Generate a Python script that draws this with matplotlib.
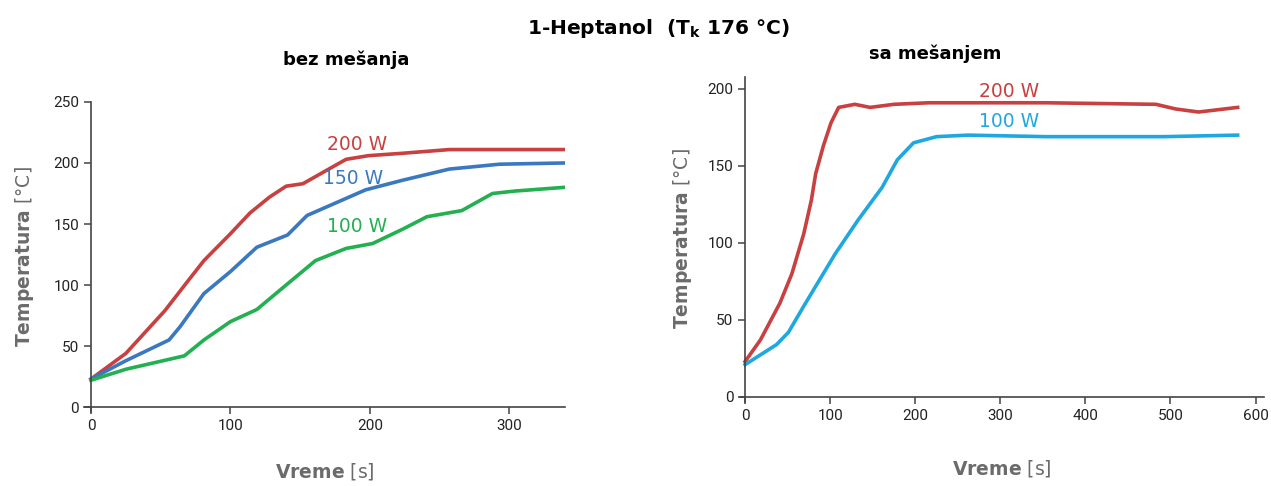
import matplotlib
matplotlib.use("Agg")
import matplotlib.pyplot as plt

# --- podaci: bez mesanja ---
t_200_a = [0, 25, 53, 70, 81, 100, 114, 128, 140, 152, 169, 183, 199, 224, 257, 339]
T_200_a = [23, 44, 79, 104, 120, 142, 159, 172, 181, 183, 194, 203, 206, 208, 211, 211]

t_150_a = [0, 25, 56, 64, 81, 100, 119, 141, 155, 169, 197, 224, 257, 293, 339]
T_150_a = [23, 38, 55, 66, 93, 111, 131, 141, 157, 164, 178, 186, 195, 199, 200]

t_100_a = [0, 25, 67, 81, 100, 119, 141, 161, 183, 202, 224, 241, 266, 288, 304, 339]
T_100_a = [22, 31, 42, 55, 70, 80, 101, 120, 130, 134, 146, 156, 161, 175, 177, 180]

# --- podaci: sa mesanjem ---
t_200_b = [0, 18, 41, 55, 69, 78, 83, 92, 101, 110, 129, 147, 175, 216, 354, 483, 506, 533, 579]
T_200_b = [23, 37, 61, 80, 106, 128, 145, 163, 178, 188, 190, 188, 190, 191, 191, 190, 187, 185, 188]

t_100_b = [0, 37, 51, 69, 106, 133, 161, 179, 198, 225, 262, 354, 492, 579]
T_100_b = [21, 34, 42, 59, 93, 115, 136, 154, 165, 169, 170, 169, 169, 170]

xt_a = [0, 100, 200, 300]
yt_a = [0, 50, 100, 150, 200, 250]
xt_b = [0, 100, 200, 300, 400, 500, 600]
yt_b = [0, 50, 100, 150, 200]

rood = "#c8403f"
plava = "#3a78c0"
zelena = "#22b050"
cijan = "#1fa8e0"
siva = "#6b6b6b"

plt.rcParams["mathtext.fontset"] = "custom"
plt.rcParams["mathtext.bf"] = "DejaVu Sans:bold"
plt.rcParams["mathtext.rm"] = "DejaVu Sans"

tick_font = ["Roboto", "DejaVu Sans"]

fig = plt.figure(figsize=(12.71, 4.86), dpi=100)
ax1 = fig.add_axes([0.0661, 0.1523, 0.3784, 0.6379])
ax2 = fig.add_axes([0.5822, 0.1737, 0.4123, 0.6687])


def stil(ax, xt, yt):
    for s in ["top", "right"]:
        ax.spines[s].set_visible(False)
    ax.spines["left"].set_position(("data", 0))
    ax.spines["bottom"].set_position(("data", 0))
    for s in ["left", "bottom"]:
        ax.spines[s].set_color("#444444")
        ax.spines[s].set_linewidth(1.2)
    ax.set_xticks(xt, [str(v) for v in xt], fontfamily=tick_font, fontsize=11)
    ax.set_yticks(yt, [str(v) for v in yt], fontfamily=tick_font, fontsize=11)
    ax.tick_params(direction="out", length=5, width=1.1, color="#444444",
                   labelcolor="#222222")
    ax.set_ylabel(r"$\bf{Temperatura}$ [°C]", fontsize=13.5, color=siva)
    ax.set_xlabel(r"$\bf{Vreme}$ [s]", fontsize=13.5, color=siva)


# levo
ax1.plot(t_200_a, T_200_a, color=rood, lw=2.6)
ax1.plot(t_150_a, T_150_a, color=plava, lw=2.6)
ax1.plot(t_100_a, T_100_a, color=zelena, lw=2.6)
ax1.set_xlim(-5, 340)
ax1.set_ylim(-4, 250)
stil(ax1, xt_a, yt_a)
ax1.text(191, 215, "200 W", color=rood, fontsize=13.5, ha="center", va="center")
ax1.text(188, 187, "150 W", color=plava, fontsize=13.5, ha="center", va="center")
ax1.text(191, 148, "100 W", color=zelena, fontsize=13.5, ha="center", va="center")
ax1.yaxis.set_label_coords(-0.1, 0.5)
ax1.xaxis.set_label_coords(0.5, -0.158)

# desno
ax2.plot(t_200_b, T_200_b, color=rood, lw=2.6)
ax2.plot(t_100_b, T_100_b, color=cijan, lw=2.6)
ax2.set_xlim(-6, 610)
ax2.set_ylim(-3, 208)
stil(ax2, xt_b, yt_b)
ax2.text(310, 198.5, "200 W", color=rood, fontsize=13.5, ha="center", va="center")
ax2.text(310, 179, "100 W", color=cijan, fontsize=13.5, ha="center", va="center")
ax2.yaxis.set_label_coords(-0.088, 0.5)
ax2.xaxis.set_label_coords(0.5, -0.173)

fig.text(0.518, 0.942, r"1-Heptanol  (T$_\mathbf{k}$ 176 °C)", fontsize=14.5,
         fontweight="bold", ha="center", va="center")
fig.text(0.272, 0.877, "bez mešanja", fontsize=13, fontweight="bold",
         ha="center", va="center")
fig.text(0.736, 0.889, "sa mešanjem", fontsize=13, fontweight="bold",
         ha="center", va="center")

fig.savefig("out.png", dpi=100)
